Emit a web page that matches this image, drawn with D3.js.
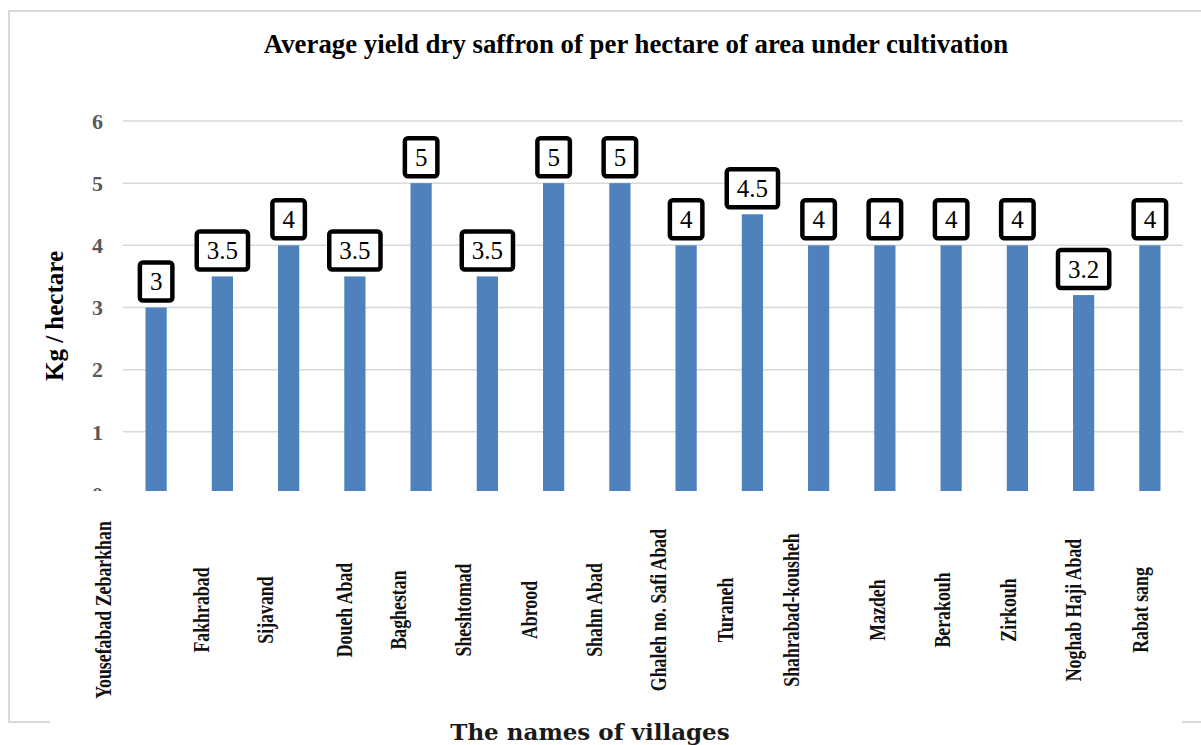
<!DOCTYPE html>
<html>
<head>
<meta charset="utf-8">
<script src="https://cdn.jsdelivr.net/npm/d3@7"></script>
<style>
  body { margin: 0; background: #fff; }
  svg { display: block; }
</style>
</head>
<body>
<div id="chart"></div>
<script>
(function () {
    // village names and yield (kg / hectare)
    const villages = [
        "Yousefabad Zebarkhan", "Fakhrabad", "Sijavand", "Doueh Abad", "Baghestan",
        "Sheshtomad", "Abrood", "Shahn Abad", "Ghaleh no. Safi Abad", "Turaneh",
        "Shahrabad-kousheh", "Mazdeh", "Berakouh", "Zirkouh", "Noghab Haji Abad", "Rabat sang"
    ];
    const yields = [3, 3.5, 4, 3.5, 5, 3.5, 5, 5, 4, 4.5, 4, 4, 4, 4, 3.2, 4];
    const yTicks = [0, 1, 2, 3, 4, 5, 6];

    // the village names were placed by hand in the original, shift each one a bit
    const labelNudge = [-45, -13, -16, -3, -15, -16, -17, -18, -20, -19, -20, 0, -1, -1, -3, -2];

    const W = 1201, H = 745;
    const plot = { left: 123, right: 1183, top: 121, bottom: 494 };
    const serif = "'Liberation Serif', 'Times New Roman', serif";

    const svg = d3.select("#chart").append("svg")
        .attr("width", W)
        .attr("height", H);

    // light frame round the chart
    svg.append("path")
        .attr("d", "M1201,11 L9,11 L9,722 L50,722 M1182,722 L1201,722")
        .attr("fill", "none")
        .attr("stroke", "#d9d9d9")
        .attr("stroke-width", 2);

    // title
    svg.append("text")
        .attr("x", 636)
        .attr("y", 53)
        .attr("text-anchor", "middle")
        .style("font-family", serif)
        .style("font-weight", "bold")
        .style("font-size", "26.8px")
        .text("Average yield dry saffron of per hectare of area under cultivation");

    const x = d3.scaleBand()
        .domain(villages)
        .range([plot.left, plot.right])
        .paddingInner(0.68)
        .paddingOuter(0.34);

    const y = d3.scaleLinear()
        .domain([0, 6])
        .range([plot.bottom, plot.top]);

    // the bottom of the plot is cut off just above zero in the original
    svg.append("clipPath").attr("id", "cut")
        .append("rect")
        .attr("x", 0).attr("y", 0)
        .attr("width", W).attr("height", 491);

    const g = svg.append("g").attr("clip-path", "url(#cut)");

    // gridlines
    g.selectAll("line.grid")
        .data(yTicks)
        .enter().append("line")
        .attr("class", "grid")
        .attr("x1", plot.left)
        .attr("x2", plot.right)
        .attr("y1", d => y(d))
        .attr("y2", d => y(d))
        .attr("stroke", "#d9d9d9")
        .attr("stroke-width", 1.5);

    // y tick labels
    g.selectAll("text.ytick")
        .data(yTicks)
        .enter().append("text")
        .attr("class", "ytick")
        .attr("x", 103)
        .attr("y", d => y(d))
        .attr("dy", "0.35em")
        .attr("text-anchor", "end")
        .style("font-family", serif)
        .style("font-weight", "bold")
        .style("font-size", "22px")
        .style("fill", "#595959")
        .text(d => d);

    // bars
    g.selectAll("rect.bar")
        .data(villages)
        .enter().append("rect")
        .attr("class", "bar")
        .attr("x", d => x(d))
        .attr("width", x.bandwidth())
        .attr("y", (d, i) => y(yields[i]))
        .attr("height", (d, i) => y(0) - y(yields[i]))
        .attr("fill", "#4f81bd");

    // value labels in black boxes
    const lab = svg.selectAll("g.vlab")
        .data(villages)
        .enter().append("g")
        .attr("class", "vlab")
        .attr("transform", (d, i) =>
            "translate(" + (x(d) + x.bandwidth() / 2) + "," + (y(yields[i]) - 26) + ")");

    lab.append("rect");

    lab.append("text")
        .attr("text-anchor", "middle")
        .attr("dy", "0.35em")
        .style("font-family", serif)
        .style("font-size", "25px")
        .text((d, i) => yields[i]);

    lab.each(function () {
        const t = d3.select(this).select("text").node();
        const w = t.getComputedTextLength() + 20;
        d3.select(this).select("rect")
            .attr("x", -w / 2)
            .attr("y", -19)
            .attr("width", w)
            .attr("height", 38)
            .attr("rx", 3)
            .attr("fill", "#fff")
            .attr("stroke", "#000")
            .attr("stroke-width", 4.5);
    });

    // village names, rotated and squeezed
    svg.selectAll("text.cat")
        .data(villages)
        .enter().append("text")
        .attr("class", "cat")
        .attr("transform", (d, i) =>
            "translate(" + (x(d) + x.bandwidth() / 2 + labelNudge[i]) + ",610) rotate(-90) scale(0.775,1)")
        .attr("text-anchor", "middle")
        .style("font-family", serif)
        .style("font-weight", "bold")
        .style("font-size", "23px")
        .style("fill", "#111")
        .text(d => d);

    // axis titles
    svg.append("text")
        .attr("transform", "translate(63,316) rotate(-90)")
        .attr("text-anchor", "middle")
        .style("font-family", serif)
        .style("font-weight", "bold")
        .style("font-size", "25px")
        .text("Kg / hectare");

    svg.append("text")
        .attr("x", 590)
        .attr("y", 740)
        .attr("text-anchor", "middle")
        .style("font-family", "'DejaVu Serif', serif")
        .style("font-weight", "bold")
        .style("font-size", "23px")
        .style("fill", "#1a1a1a")
        .text("The names of villages");
})();
</script>
</body>
</html>
